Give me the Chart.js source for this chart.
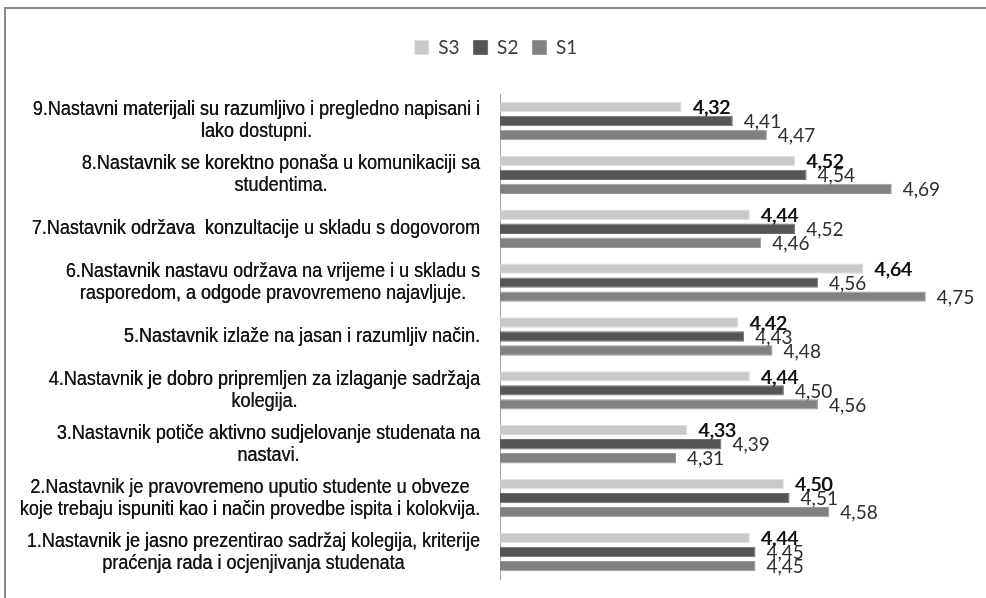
<!DOCTYPE html>
<html>
<head>
<meta charset="utf-8">
<script src="https://cdn.jsdelivr.net/npm/chart.js@4.4.1/dist/chart.umd.min.js"></script>
<style>
  html, body { margin: 0; padding: 0; background: #ffffff; }
  #wrap { position: relative; width: 986px; height: 598px; }
  canvas { display: block; }
</style>
</head>
<body>
<div id="wrap"><canvas id="c" width="986" height="598"></canvas></div>
<script>
// ---- data ----
const categories = [
  ["9.Nastavni materijali su razumljivo i pregledno napisani i", "lako dostupni."],
  ["8.Nastavnik se korektno ponaša u komunikaciji sa", "studentima."],
  ["7.Nastavnik održava  konzultacije u skladu s dogovorom"],
  ["6.Nastavnik nastavu održava na vrijeme i u skladu s", "rasporedom, a odgode pravovremeno najavljuje."],
  ["5.Nastavnik izlaže na jasan i razumljiv način."],
  ["4.Nastavnik je dobro pripremljen za izlaganje sadržaja", "kolegija."],
  ["3.Nastavnik potiče aktivno sudjelovanje studenata na", "nastavi."],
  ["2.Nastavnik je pravovremeno uputio studente u obveze", "koje trebaju ispuniti kao i način provedbe ispita i kolokvija."],
  ["1.Nastavnik je jasno prezentirao sadržaj kolegija, kriterije", "praćenja rada i ocjenjivanja studenata"]
];
const seriesNames = ["S3", "S2", "S1"];
const s3Values = [4.32, 4.52, 4.44, 4.64, 4.42, 4.44, 4.33, 4.50, 4.44];
const s2Values = [4.41, 4.54, 4.52, 4.56, 4.43, 4.50, 4.39, 4.51, 4.45];
const s1Values = [4.47, 4.69, 4.46, 4.75, 4.48, 4.56, 4.31, 4.58, 4.45];
const axisMin = 4.0;
const axisMax = 4.856;

// ---- styles ----
const fillColors = ["#c9c9c9", "#555555", "#818181"];
const edgeColors = ["#dedede", "#6e6e6e", "#9a9a9a"];
const labelFont = '20px "Liberation Sans", Arial, sans-serif';
const labelSquash = 0.90;
const valueFont = '19px Lato, "Liberation Sans", sans-serif';

const framePlugin = {
  id: 'frame',
  beforeDraw(chart) {
    const ctx = chart.ctx;
    ctx.save();
    ctx.fillStyle = '#ffffff';
    ctx.fillRect(0, 0, chart.width, chart.height);
    ctx.strokeStyle = '#8a8a8a';
    ctx.lineWidth = 2;
    ctx.beginPath();
    ctx.moveTo(5, chart.height + 2);
    ctx.lineTo(5, 8);
    ctx.lineTo(chart.width + 2, 8);
    ctx.stroke();
    ctx.restore();
  }
};

const legendGapPlugin = {
  id: 'legendGap',
  beforeInit(chart) {
    const origFit = chart.legend.fit;
    chart.legend.fit = function () {
      origFit.bind(chart.legend)();
      this.height += 27;
    };
  }
};

const catLabelPlugin = {
  id: 'catLabels',
  afterDraw(chart) {
    const ctx = chart.ctx;
    const y = chart.scales.y;
    const right = chart.chartArea.left - 20;
    const lh = 22;
    ctx.save();
    ctx.font = labelFont;
    ctx.fillStyle = '#151515';
    ctx.textBaseline = 'middle';
    ctx.textAlign = 'center';
    categories.forEach((lines, i) => {
      const cy = y.getPixelForTick(i);
      let w = 0;
      lines.forEach(l => { w = Math.max(w, ctx.measureText(l).width * labelSquash); });
      const cx = right - w / 2;
      const top = cy - (lines.length - 1) * lh / 2;
      lines.forEach((l, k) => {
        ctx.save();
        ctx.translate(cx, top + k * lh);
        ctx.scale(labelSquash, 1);
        ctx.fillText(l, 0, 0);
        ctx.fillText(l, 0.35, 0);
        ctx.restore();
      });
    });
    ctx.restore();
  }
};

const valueLabelPlugin = {
  id: 'valueLabels',
  afterDatasetsDraw(chart) {
    const ctx = chart.ctx;
    ctx.save();
    ctx.font = valueFont;
    ctx.textBaseline = 'middle';
    ctx.textAlign = 'left';
    chart.data.datasets.forEach((ds, di) => {
      const meta = chart.getDatasetMeta(di);
      meta.data.forEach((bar, i) => {
        const txt = ds.data[i].toFixed(2).replace('.', ',');
        const x = bar.x + 11;
        const yy = bar.y + 1;
        if (di === 0) {
          ctx.fillStyle = '#111111';
          ctx.fillText(txt, x, yy);
          ctx.fillText(txt, x + 0.7, yy);
        } else {
          ctx.fillStyle = '#2e2e2e';
          ctx.fillText(txt, x, yy);
        }
      });
    });
    ctx.restore();
  }
};

const seriesData = [s3Values, s2Values, s1Values];

new Chart(document.getElementById('c'), {
  type: 'bar',
  data: {
    labels: categories,
    datasets: seriesNames.map((n, k) => ({
      label: n,
      data: seriesData[k],
      backgroundColor: fillColors[k],
      borderColor: edgeColors[k],
      borderWidth: 1,
      barPercentage: 0.74,
      categoryPercentage: 0.78
    }))
  },
  options: {
    indexAxis: 'y',
    responsive: false,
    animation: false,
    layout: { padding: { left: 6, right: 0, top: 24, bottom: 19 } },
    plugins: {
      legend: {
        display: true,
        position: 'top',
        labels: {
          boxWidth: 14,
          boxHeight: 14,
          padding: 14,
          color: '#3a3a3a',
          font: { family: 'Lato, "Liberation Sans", sans-serif', size: 19 }
        }
      },
      tooltip: { enabled: false }
    },
    scales: {
      x: {
        display: false,
        min: axisMin,
        max: axisMax
      },
      y: {
        ticks: { display: false },
        grid: { display: false, drawTicks: false },
        border: { display: true, color: '#a0a0a0', width: 1 },
        afterFit(scale) { scale.width = 494; }
      }
    }
  },
  plugins: [framePlugin, legendGapPlugin, catLabelPlugin, valueLabelPlugin]
});
</script>
</body>
</html>
